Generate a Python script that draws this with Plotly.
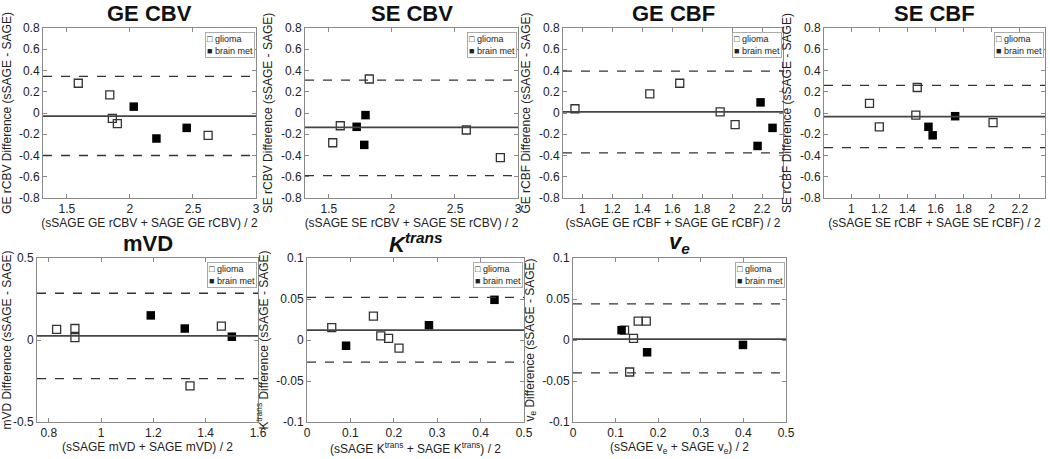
import plotly.graph_objects as go

# ---------------- data ----------------
panel_titles = ["GE CBV", "SE CBV", "GE CBF", "SE CBF", "mVD",
                "<b><i>K</i></b><sup><b><i>trans</i></b></sup>",
                "<b><i>v</i></b><sub><b><i>e</i></b></sub>"]
y_titles = ["GE rCBV Difference (sSAGE - SAGE)", "SE rCBV Difference (sSAGE - SAGE)",
            "GE rCBF Difference (sSAGE - SAGE)", "SE rCBF Difference (sSAGE - SAGE)",
            "mVD Difference (sSAGE - SAGE)", "K<sup>trans</sup> Difference (sSAGE - SAGE)",
            "v<sub>e</sub> Difference (sSAGE - SAGE)"]
x_titles = ["(sSAGE GE rCBV + SAGE GE rCBV) / 2", "(sSAGE SE rCBV + SAGE SE rCBV) / 2",
            "(sSAGE GE rCBF + SAGE GE rCBF) / 2", "(sSAGE SE rCBF + SAGE SE rCBF) / 2",
            "(sSAGE mVD + SAGE mVD) / 2", "(sSAGE K<sup>trans</sup> + SAGE K<sup>trans</sup>) / 2",
            "(sSAGE v<sub>e</sub> + SAGE v<sub>e</sub>) / 2"]

ge_cbv_glioma_x = [1.59, 1.84, 1.86, 1.90, 2.62]
ge_cbv_glioma_y = [0.28, 0.17, -0.05, -0.10, -0.21]
ge_cbv_met_x = [2.03, 2.21, 2.45]
ge_cbv_met_y = [0.06, -0.24, -0.14]
ge_cbv_lines = [-0.03, 0.345, -0.40]   # mean, upper, lower

se_cbv_glioma_x = [1.53, 1.59, 1.82, 2.59, 2.86]
se_cbv_glioma_y = [-0.28, -0.12, 0.32, -0.16, -0.42]
se_cbv_met_x = [1.72, 1.78, 1.79]
se_cbv_met_y = [-0.13, -0.30, -0.02]
se_cbv_lines = [-0.135, 0.31, -0.59]

ge_cbf_glioma_x = [0.95, 1.45, 1.65, 1.92, 2.02]
ge_cbf_glioma_y = [0.04, 0.18, 0.28, 0.01, -0.11]
ge_cbf_met_x = [2.19, 2.17, 2.27]
ge_cbf_met_y = [0.10, -0.31, -0.14]
ge_cbf_lines = [0.01, 0.395, -0.375]

se_cbf_glioma_x = [1.13, 1.20, 1.46, 1.47, 2.01]
se_cbf_glioma_y = [0.09, -0.13, -0.02, 0.24, -0.09]
se_cbf_met_x = [1.55, 1.58, 1.74]
se_cbf_met_y = [-0.13, -0.21, -0.03]
se_cbf_lines = [-0.035, 0.26, -0.325]

mvd_glioma_x = [0.83, 0.90, 0.90, 1.46, 1.34]
mvd_glioma_y = [0.065, 0.07, 0.015, 0.085, -0.28]
mvd_met_x = [1.19, 1.32, 1.50]
mvd_met_y = [0.15, 0.07, 0.02]
mvd_lines = [0.025, 0.285, -0.235]

ktrans_glioma_x = [0.057, 0.153, 0.170, 0.188, 0.212]
ktrans_glioma_y = [0.015, 0.029, 0.005, 0.002, -0.010]
ktrans_met_x = [0.090, 0.281, 0.432]
ktrans_met_y = [-0.007, 0.018, 0.049]
ktrans_lines = [0.012, 0.052, -0.027]

ve_glioma_x = [0.121, 0.142, 0.153, 0.172, 0.133]
ve_glioma_y = [0.012, 0.002, 0.023, 0.023, -0.039]
ve_met_x = [0.114, 0.174, 0.399]
ve_met_y = [0.012, -0.015, -0.006]
ve_lines = [0.001, 0.044, -0.040]

# tick values / labels
cbv_xticks = [1.5, 2, 2.5, 3]
cbv_xlabels = ["1.5", "2", "2.5", "3"]
cbf_xticks = [1, 1.2, 1.4, 1.6, 1.8, 2, 2.2]
cbf_xlabels = ["1", "1.2", "1.4", "1.6", "1.8", "2", "2.2"]
mvd_xticks = [0.8, 1, 1.2, 1.4, 1.6]
mvd_xlabels = ["0.8", "1", "1.2", "1.4", "1.6"]
k_xticks = [0, 0.1, 0.2, 0.3, 0.4, 0.5]
k_xlabels = ["0", "0.1", "0.2", "0.3", "0.4", "0.5"]
top_yticks = [0.8, 0.6, 0.4, 0.2, 0, -0.2, -0.4, -0.6, -0.8]
top_ylabels = ["0.8", "0.6", "0.4", "0.2", "0", "-0.2", "-0.4", "-0.6", "-0.8"]
mvd_yticks = [0.5, 0, -0.5]
mvd_ylabels = ["0.5", "0", "-0.5"]
k_yticks = [0.1, 0.05, 0, -0.05, -0.1]
k_ylabels = ["0.1", "0.05", "0", "-0.05", "-0.1"]

x_ranges = [[1.31, 3], [1.31, 3], [0.87, 2.34], [0.806, 2.38], [0.755, 1.6], [0, 0.5], [0, 0.5]]
y_ranges = [[-0.8, 0.8]] * 4 + [[-0.5, 0.5], [-0.1, 0.1], [-0.1, 0.1]]

panels = [
    (ge_cbv_glioma_x, ge_cbv_glioma_y, ge_cbv_met_x, ge_cbv_met_y, ge_cbv_lines, cbv_xticks, cbv_xlabels, top_yticks, top_ylabels),
    (se_cbv_glioma_x, se_cbv_glioma_y, se_cbv_met_x, se_cbv_met_y, se_cbv_lines, cbv_xticks, cbv_xlabels, top_yticks, top_ylabels),
    (ge_cbf_glioma_x, ge_cbf_glioma_y, ge_cbf_met_x, ge_cbf_met_y, ge_cbf_lines, cbf_xticks, cbf_xlabels, top_yticks, top_ylabels),
    (se_cbf_glioma_x, se_cbf_glioma_y, se_cbf_met_x, se_cbf_met_y, se_cbf_lines, cbf_xticks, cbf_xlabels, top_yticks, top_ylabels),
    (mvd_glioma_x, mvd_glioma_y, mvd_met_x, mvd_met_y, mvd_lines, mvd_xticks, mvd_xlabels, mvd_yticks, mvd_ylabels),
    (ktrans_glioma_x, ktrans_glioma_y, ktrans_met_x, ktrans_met_y, ktrans_lines, k_xticks, k_xlabels, k_yticks, k_ylabels),
    (ve_glioma_x, ve_glioma_y, ve_met_x, ve_met_y, ve_lines, k_xticks, k_xlabels, k_yticks, k_ylabels),
]

# ---------------- layout (pixel boxes in page coordinates) ----------------
W, H = 1050, 459
boxes = [  # left, right, top, bottom in px
    (43, 256, 28, 198), (305, 518, 28, 198), (563, 783, 28, 198), (824, 1045, 28, 198),
    (37, 258, 258, 422), (307, 524, 258, 422), (573, 786, 258, 422),
]

FONT = "Liberation Sans, Arial, Helvetica, sans-serif"
AX = "#8a8a8a"
fig = go.Figure()
layout = dict(width=W, height=H, margin=dict(l=0, r=0, t=0, b=0, autoexpand=False),
              paper_bgcolor="white", plot_bgcolor="white", showlegend=False,
              font=dict(family=FONT, color="#222"))
annotations = []
shapes = []

for i, (gx, gy, mx, my, lines, xt, xl, yt, yl) in enumerate(panels):
    n = "" if i == 0 else str(i + 1)
    xa, ya = "x" + n, "y" + n
    l, r, t, b = boxes[i]
    layout["xaxis" + n] = dict(
        domain=[l / W, r / W], range=x_ranges[i], anchor=ya, automargin=False,
        tickvals=xt, ticktext=xl, ticks="inside", ticklen=4, tickcolor=AX,
        showline=True, linecolor=AX, linewidth=1, mirror="allticks",
        showgrid=False, zeroline=False, tickfont=dict(size=12, color="#222"),
        title=dict(text=x_titles[i], font=dict(size=12, color="#222"), standoff=0))
    layout["yaxis" + n] = dict(
        domain=[1 - b / H, 1 - t / H], range=y_ranges[i], anchor=xa, automargin=False,
        tickvals=yt, ticktext=yl, ticks="inside", ticklen=4, tickcolor=AX,
        showline=True, linecolor=AX, linewidth=1, mirror="allticks",
        showgrid=False, zeroline=False, tickfont=dict(size=12, color="#222"),
        title=dict(text=y_titles[i], font=dict(size=12, color="#222"), standoff=5))

    mean, upper, lower = lines
    shapes.append(dict(type="line", xref=xa + " domain", yref=ya, x0=0, x1=1, y0=mean, y1=mean,
                       line=dict(color="#444", width=1.8)))
    for v in (upper, lower):
        shapes.append(dict(type="line", xref=xa + " domain", yref=ya, x0=0, x1=1, y0=v, y1=v,
                           line=dict(color="#333", width=1.3, dash="dash")))

    fig.add_trace(go.Scatter(x=gx, y=gy, mode="markers", xaxis=xa, yaxis=ya, name="glioma",
                             marker=dict(symbol="square-open", size=8, color="#333",
                                         line=dict(width=1.3, color="#333"))))
    fig.add_trace(go.Scatter(x=mx, y=my, mode="markers", xaxis=xa, yaxis=ya, name="brain met",
                             marker=dict(symbol="square", size=8.5, color="#000")))

    # panel title
    annotations.append(dict(text="<b>" + panel_titles[i] + "</b>" if i < 5 else panel_titles[i],
                            xref=xa + " domain", yref="paper", x=0.5,
                            y=1 - (t - 15) / H, yanchor="middle", showarrow=False,
                            font=dict(size=22, color="#111", family=FONT)))
    # legend box
    annotations.append(dict(text="\u25a1 glioma<br>\u25a0 brain met", align="left",
                            xref=xa + " domain", yref=ya + " domain", x=0.995, y=0.975,
                            xanchor="right", yanchor="top", showarrow=False,
                            bgcolor="white", bordercolor="#aaa", borderwidth=1, borderpad=1,
                            font=dict(size=9, color="#222", family=FONT)))

layout["annotations"] = annotations
layout["shapes"] = shapes
fig.update_layout(**layout)
# remove the browser's default page margin so the figure fills the 1050x459 window
fig.write_html("out.html", config={"displayModeBar": False},
               post_script="document.body.style.margin='0';document.body.style.padding='0';")
